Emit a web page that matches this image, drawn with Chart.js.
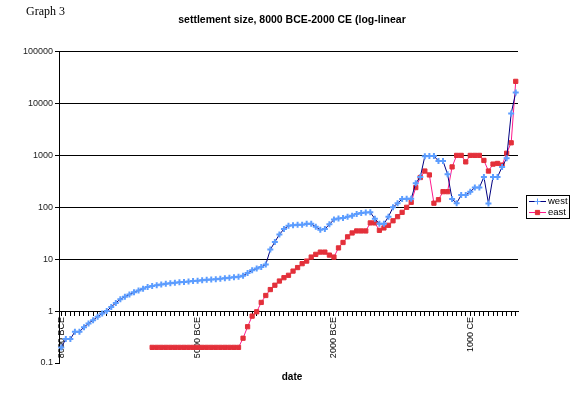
<!DOCTYPE html>
<html>
<head>
<meta charset="utf-8">
<script src="https://cdn.jsdelivr.net/npm/chart.js@4.4.1/dist/chart.umd.min.js"></script>
<style>
  html, body { margin: 0; padding: 0; background: #fff; }
</style>
</head>
<body>
<canvas id="chart" width="577" height="395"></canvas>
<script>
"use strict";

// categories: one point every 100 years, 8000 BCE .. 2000 CE
var startYear = -8000;
var stepYears = 100;
var years = [];
for (var i = 0; i <= 100; i++) {
  years.push(startYear + i * stepYears);
}

var tickYears = [-8000, -5000, -2000, 1000];
var tickLabels = ["8000 BCE", "5000 BCE", "2000 BCE", "1000 CE"];
var yTicks = [0.1, 1, 10, 100, 1000, 10000, 100000];

// settlement size (thousands)
var westSize = [
  0.2, 0.29, 0.29, 0.4, 0.4, 0.49, 0.58, 0.67, 0.78, 0.9,
  1.0, 1.2, 1.44, 1.7, 1.88, 2.1, 2.3, 2.5, 2.7, 2.9,
  3.05, 3.15, 3.25, 3.35, 3.45, 3.5, 3.6, 3.65, 3.7, 3.8,
  3.85, 3.95, 4.0, 4.05, 4.1, 4.2, 4.3, 4.4, 4.5, 4.6,
  4.8, 5.4, 6.1, 6.6, 7.1, 7.9, 15.3, 21.5, 30, 38,
  44, 45, 46, 46, 48, 48, 42, 37, 38, 47,
  58, 61, 62, 66, 69, 74, 78, 79, 80, 60,
  48, 48, 66, 100, 120, 144, 146, 146, 290, 385,
  960, 970, 970, 780, 780, 435, 144, 120, 172, 172,
  200, 240, 240, 385, 119, 385, 385, 600, 880, 6400,
  16300
];

var eastSize = [
  null, null, null, null, null, null, null, null, null, null,
  null, null, null, null, null, null, null, null, null, null,
  0.2, 0.2, 0.2, 0.2, 0.2, 0.2, 0.2, 0.2, 0.2, 0.2,
  0.2, 0.2, 0.2, 0.2, 0.2, 0.2, 0.2, 0.2, 0.2, 0.2,
  0.3, 0.5, 0.8, 0.97, 1.47, 2.0, 2.6, 3.15, 3.8, 4.4,
  4.9, 5.9, 6.9, 8.2, 9.2, 11, 12.4, 13.7, 13.7, 12,
  11, 16.5, 21, 27, 32, 35, 35, 35, 50, 50,
  36, 40, 45, 55, 66, 80, 100, 125, 240, 375,
  500, 420, 120, 140, 200, 200, 600, 1000, 1000, 750,
  1000, 1000, 1000, 800, 500, 680, 700, 650, 1100, 1750,
  26700
];

var westLine = "#000080";
var westMark = "#5c9dff";
var eastLine = "#ff1a8c";
var eastMark = "#e3303a";

var axisFont = { family: "'Liberation Sans', Arial, sans-serif", size: 9 };
var boldFont = { family: "'Liberation Sans', Arial, sans-serif", size: 10, weight: "bold" };

// "Graph 3" caption and the boxed legend on the right
var pageExtras = {
  id: "pageExtras",
  afterDraw: function (chart) {
    let ctx = chart.ctx;
    ctx.save();
    ctx.fillStyle = "#000";
    ctx.font = "12px 'Liberation Serif', 'Times New Roman', serif";
    ctx.textBaseline = "alphabetic";
    ctx.textAlign = "left";
    ctx.fillText("Graph 3", 26, 15);

    ctx.strokeStyle = "#000";
    ctx.lineWidth = 1;
    ctx.strokeRect(526.5, 195.5, 43, 23);

    let rows = [
      { name: "west", line: westLine, mark: westMark, style: "cross", r: 3, bw: 2, y: 201.5 },
      { name: "east", line: eastLine, mark: eastMark, style: "rect", r: 3, bw: 1, y: 212.5 }
    ];
    rows.forEach((row) => {
      ctx.strokeStyle = row.line;
      ctx.lineWidth = 1;
      ctx.beginPath();
      ctx.moveTo(529, row.y);
      ctx.lineTo(546, row.y);
      ctx.stroke();
      ctx.fillStyle = row.mark;
      ctx.strokeStyle = row.mark;
      Chart.helpers.drawPoint(ctx, {
        pointStyle: row.style,
        radius: row.r,
        rotation: 0,
        borderWidth: row.bw
      }, 537.5, row.y);
      ctx.fillStyle = "#000";
      ctx.font = "9.5px 'Liberation Sans', Arial, sans-serif";
      ctx.textBaseline = "middle";
      ctx.fillText(row.name, 548, row.y);
    });
    ctx.restore();
  }
};

new Chart(document.getElementById("chart"), {
  type: "line",
  data: {
    labels: years,
    datasets: [
      {
        label: "west",
        data: westSize,
        borderColor: westLine,
        borderWidth: 1,
        pointStyle: "cross",
        pointRadius: 3,
        pointBorderWidth: 2,
        pointBorderColor: westMark,
        pointBackgroundColor: westMark,
        tension: 0,
        spanGaps: true,
      },
      {
        label: "east",
        data: eastSize,
        borderColor: eastLine,
        borderWidth: 1,
        pointStyle: "rect",
        pointRadius: 3,
        pointBorderWidth: 1,
        pointBorderColor: eastMark,
        pointBackgroundColor: eastMark,
        tension: 0,
      },
    ],
  },
  options: {
    responsive: false,
    animation: false,
    devicePixelRatio: 1,
    layout: {
      padding: { left: 7, right: 0, top: 0, bottom: 0 },
    },
    plugins: {
      legend: { display: false },
      tooltip: { enabled: false },
      title: {
        display: true,
        text: "settlement size, 8000 BCE-2000 CE (log-linear",
        color: "#000",
        font: { family: "'Liberation Sans', Arial, sans-serif", size: 10.5, weight: "bold" },
        padding: { top: 14, bottom: 25 },
      },
      subtitle: {
        display: true,
        position: "bottom",
        text: "date",
        color: "#000",
        font: boldFont,
        padding: { top: 8, bottom: 12 },
      },
    },
    scales: {
      x: {
        type: "category",
        position: { y: 1 },
        offset: true,
        grid: {
          drawOnChartArea: false,
          drawTicks: true,
          tickLength: 4,
          color: "#000",
          offset: false,
        },
        border: { display: true, color: "#000", width: 1 },
        ticks: {
          autoSkip: false,
          minRotation: 90,
          maxRotation: 90,
          padding: 2,
          color: "#000",
          font: axisFont,
          callback: function (value, index) {
            let k = tickYears.indexOf(years[index]);
            return k >= 0 ? tickLabels[k] : "";
          },
        },
      },
      y: {
        type: "logarithmic",
        min: 0.1,
        max: 100000,
        afterBuildTicks: function (scale) {
          scale.ticks = yTicks.map((v) => ({ value: v }));
        },
        afterFit: function (scale) {
          scale.width = 52;
        },
        grid: {
          color: function (ctx) {
            return ctx.tick && ctx.tick.value === 0.1 ? "rgba(0,0,0,0)" : "#000";
          },
          tickColor: "#000",
          tickLength: 4,
          lineWidth: 1,
        },
        border: { display: true, color: "#000", width: 1 },
        ticks: {
          padding: 2,
          color: "#222",
          font: axisFont,
          callback: function (value) {
            return String(value);
          },
        },
      },
      // empty strip on the right where the legend sits
      yRight: {
        type: "linear",
        position: "right",
        grid: { display: false, drawOnChartArea: false },
        border: { display: false },
        ticks: { display: false },
        afterFit: function (scale) {
          scale.width = 59;
        },
      },
    },
  },
  plugins: [pageExtras],
});
</script>
</body>
</html>
